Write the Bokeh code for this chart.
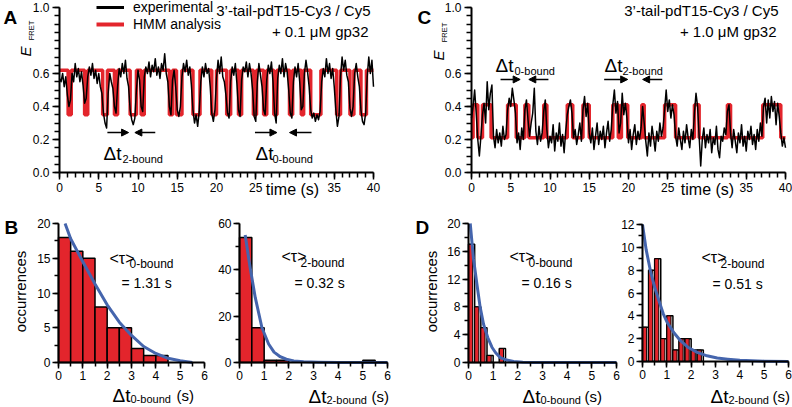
import math
from bokeh.plotting import figure
from bokeh.models import (Label, Legend, LegendItem, FixedTicker, PrintfTickFormatter,
                          Arrow, NormalHead, Range1d)
from bokeh.layouts import row, column
from bokeh.embed import file_html
from bokeh.resources import INLINE

FONT = "Liberation Sans"
RED = "#e3252c"
BLUE = "#4565ad"

# ---------------- data ----------------
frame_interval = 0.2
time_s = [round(frame_interval * i, 1) for i in range(201)]

trace_a = [0.57, 0.55, 0.60, 0.52, 0.58, 0.47, 0.40, 0.44, 0.60, 0.55,
           0.66, 0.58, 0.63, 0.55, 0.61, 0.53, 0.42, 0.45, 0.58, 0.64,
           0.59, 0.66, 0.57, 0.62, 0.54, 0.60, 0.52, 0.48, 0.36, 0.30,
           0.27, 0.48, 0.60, 0.55, 0.51, 0.40, 0.36, 0.52, 0.63, 0.58,
           0.66, 0.60, 0.68, 0.57, 0.52, 0.38, 0.32, 0.29, 0.33, 0.50,
           0.62, 0.56, 0.40, 0.37, 0.58, 0.64, 0.60, 0.67, 0.58, 0.65,
           0.61, 0.69, 0.59, 0.64, 0.57, 0.66, 0.62, 0.72, 0.60, 0.55,
           0.40, 0.35, 0.56, 0.62, 0.52, 0.38, 0.34, 0.40, 0.58, 0.66,
           0.61, 0.68, 0.59, 0.64, 0.53, 0.38, 0.30, 0.35, 0.28, 0.37,
           0.55, 0.64, 0.58, 0.66, 0.60, 0.63, 0.52, 0.36, 0.31, 0.38,
           0.57, 0.68, 0.60, 0.70, 0.58, 0.55, 0.47, 0.36, 0.33, 0.55,
           0.64, 0.59, 0.66, 0.54, 0.38, 0.34, 0.56, 0.64, 0.61, 0.67,
           0.58, 0.66, 0.60, 0.50, 0.34, 0.31, 0.55, 0.66, 0.59, 0.52,
           0.38, 0.35, 0.56, 0.65, 0.60, 0.67, 0.55, 0.36, 0.30, 0.57,
           0.65, 0.60, 0.69, 0.58, 0.66, 0.61, 0.50, 0.36, 0.33, 0.55,
           0.64, 0.58, 0.66, 0.55, 0.38, 0.40, 0.60, 0.68, 0.61, 0.52,
           0.38, 0.33, 0.36, 0.31, 0.35, 0.32, 0.37, 0.55, 0.63, 0.58,
           0.69, 0.60, 0.66, 0.57, 0.63, 0.52, 0.38, 0.28, 0.34, 0.58,
           0.70, 0.62, 0.68, 0.59, 0.55, 0.39, 0.34, 0.40, 0.60, 0.66,
           0.58, 0.52, 0.38, 0.31, 0.29, 0.36, 0.58, 0.70, 0.60, 0.68,
           0.52]

hmm_a_t = [0, 1.1, 1.5, 3.2, 3.6, 5.5, 6.1, 7.0, 7.4, 9.0, 9.8, 10.4, 10.8,
           14.0, 14.4, 14.9, 15.6, 17.0, 17.9, 19.4, 20.0, 21.3, 21.8, 22.8, 23.2,
           24.7, 25.1, 26.0, 26.4, 27.3, 27.7, 29.3, 29.7, 30.8, 31.1, 32.0, 33.3,
           35.3, 35.8, 37.0, 37.5, 38.4, 39.1, 40.0]
hmm_a_E = [0.62, 0.35, 0.62, 0.35, 0.62, 0.35, 0.62, 0.35, 0.62, 0.35, 0.62, 0.35, 0.62,
           0.35, 0.62, 0.35, 0.62, 0.35, 0.62, 0.35, 0.62, 0.35, 0.62, 0.35, 0.62,
           0.35, 0.62, 0.35, 0.62, 0.35, 0.62, 0.35, 0.62, 0.35, 0.62, 0.35, 0.62,
           0.35, 0.62, 0.35, 0.62, 0.35, 0.62, 0.62]

trace_c = [0.33, 0.40, 0.50, 0.36, 0.20, 0.10, 0.22, 0.35, 0.42, 0.30,
           0.55, 0.38, 0.48, 0.53, 0.22, 0.15, 0.26, 0.18, 0.24, 0.16,
           0.28, 0.20, 0.23, 0.38, 0.45, 0.40, 0.51, 0.44, 0.36, 0.18,
           0.24, 0.14, 0.27, 0.20, 0.38, 0.44, 0.32, 0.22, 0.30, 0.36,
           0.51, 0.25, 0.17, 0.28, 0.19, 0.24, 0.37, 0.44, 0.26, 0.15,
           0.22, 0.18, 0.29, 0.13, 0.24, 0.19, 0.30, 0.16, 0.23, 0.12,
           0.25, 0.35, 0.40, 0.44, 0.36, 0.21, 0.26, 0.17, 0.23, 0.30,
           0.19, 0.38, 0.46, 0.34, 0.42, 0.24, 0.18, 0.27, 0.14, 0.22,
           0.30, 0.17, 0.25, 0.20, 0.28, 0.15, 0.24, 0.31, 0.19, 0.26,
           0.41, 0.50, 0.36, 0.43, 0.24, 0.30, 0.48, 0.35, 0.42, 0.33,
           0.18, 0.26, 0.14, 0.23, 0.29, 0.17, 0.25, 0.20, 0.27, 0.40,
           0.30, 0.19, 0.10, 0.24, 0.16, 0.28, 0.21, 0.13, 0.25, 0.19,
           0.30, 0.22, 0.27, 0.38, 0.50, 0.37, 0.44, 0.33, 0.41, 0.35,
           0.22, 0.16, 0.27, 0.20, 0.14, 0.25, 0.18, 0.29, 0.21, 0.15,
           0.26, 0.20, 0.36, 0.48, 0.40, 0.22, 0.04, 0.20, 0.27, 0.15,
           0.23, 0.18, 0.26, 0.12, 0.21, 0.17, 0.28, 0.14, 0.09, 0.22,
           0.19, 0.27, 0.23, 0.37, 0.41, 0.24, 0.15, 0.26, 0.19, 0.12,
           0.24, 0.18, 0.29, 0.16, 0.22, 0.13, 0.25, 0.20, 0.28, 0.17,
           0.23, 0.14, 0.26, 0.19, 0.30, 0.22, 0.40, 0.45, 0.30, 0.44,
           0.33, 0.46, 0.37, 0.43, 0.29, 0.42, 0.34, 0.24, 0.16, 0.21,
           0.15]

hmm_c_t = [0, 0.2, 0.8, 1.4, 2.5, 4.6, 5.7, 6.8, 7.3, 9.2, 9.6, 12.2, 12.9,
           14.2, 15.0, 18.0, 18.7, 19.1, 19.9, 21.7, 22.0, 24.6, 26.0, 28.4, 29.0,
           32.6, 33.0, 37.1, 39.4, 40.0]
hmm_c_E = [0.21, 0.41, 0.21, 0.41, 0.21, 0.41, 0.21, 0.41, 0.21, 0.41, 0.21, 0.41, 0.21,
           0.41, 0.21, 0.41, 0.21, 0.41, 0.21, 0.41, 0.21, 0.41, 0.21, 0.41, 0.21,
           0.41, 0.21, 0.41, 0.21, 0.21]

# histograms (bin start, counts) and fitted curves
b1_bin_w = 0.5
b1_start = [0.0, 0.5, 1.0, 1.5, 2.0, 2.5, 3.0, 3.5, 4.0]
b1_count = [18, 16, 15, 8, 5, 5, 2, 1, 1]
b1_fit_x = [0.27, 0.5, 1.0, 1.5, 2.0, 2.5, 3.0, 3.5, 4.0, 4.5, 5.0, 5.5]
b1_fit_y = [20, 17.8, 14.5, 11.3, 8.3, 5.8, 3.9, 2.3, 1.3, 0.6, 0.25, 0.0]

b2_bin_w = 0.5
b2_start = [0.0, 0.5, 1.0, 1.5, 5.0]
b2_count = [54, 15, 1, 1, 1]
b2_fit_x = [0.23, 0.43, 0.64, 0.91, 1.18, 1.4, 1.65, 1.9, 2.2, 2.6, 3.2, 4.0, 5.0, 6.0]
b2_fit_y = [55, 41, 28, 15, 8, 4.5, 2.5, 1.4, 0.7, 0.3, 0.1, 0.0, 0.0, 0.0]

d1_bin_w = 0.25
d1_start = [0.0, 0.25, 0.5, 0.75, 1.25]
d1_count = [17, 8, 5, 1, 2]
d1_fit_x = [0.07, 0.2, 0.34, 0.47, 0.61, 0.78, 0.95, 1.1, 1.29, 1.55, 1.83, 2.2, 2.65, 4.0, 6.0]
d1_fit_y = [20, 15, 11.3, 8, 5.5, 3.6, 2.2, 1.4, 0.7, 0.35, 0.15, 0.05, 0.0, 0.0, 0.0]

d2_bin_w = 0.25
d2_start = [0.0, 0.25, 0.5, 0.75, 1.0, 1.25, 1.5, 1.75, 2.0, 2.25]
d2_count = [3, 8, 9, 2, 4, 1, 2, 2, 1, 1]
d2_fit_x = [0.0, 0.15, 0.34, 0.5, 0.68, 0.85, 1.02, 1.3, 1.57, 1.9, 2.25, 2.65, 3.07, 3.5, 4.0, 5.0, 6.0]
d2_fit_y = [12, 9.8, 7.8, 6.5, 5.3, 4.2, 3.4, 2.5, 1.8, 1.2, 0.8, 0.5, 0.3, 0.2, 0.1, 0.03, 0.0]


# ---------------- helpers ----------------
def make_fig(W, H, px0, px1, xv0, xv1, py0, py1, yv0, yv1, tick_out=7, standoff=3):
    """Frame covers whole canvas; px0/px1 = canvas x of data xv0/xv1,
    py0/py1 = canvas y (from top) of data yv0/yv1."""
    sx = (px1 - px0) / (xv1 - xv0)
    sy = (py0 - py1) / (yv1 - yv0)
    xr = Range1d(xv0 - px0 / sx, xv0 + (W - px0) / sx)
    yr = Range1d(yv0 - (H - py0) / sy, yv0 + py0 / sy)
    p = figure(width=W, height=H, x_range=xr, y_range=yr,
               output_backend="svg", toolbar_location=None,
               min_border_left=0, min_border_right=0,
               min_border_top=0, min_border_bottom=0)
    p.grid.visible = False
    p.outline_line_color = None
    p.xaxis.fixed_location = yv0
    p.yaxis.fixed_location = xv0
    p.xaxis.bounds = (xv0, xv1)
    p.yaxis.bounds = (yv0, yv1)
    for ax in (p.xaxis[0], p.yaxis[0]):
        ax.axis_line_width = 2
        ax.axis_line_color = "black"
        ax.major_tick_line_color = "black"
        ax.minor_tick_line_color = "black"
        ax.major_tick_line_width = 1.5
        ax.minor_tick_line_width = 1.5
        ax.major_tick_out = tick_out
        ax.major_tick_in = 0
        ax.minor_tick_out = tick_out - 2
        ax.minor_tick_in = 0
        ax.major_label_text_font = FONT
        ax.major_label_text_font_size = "12px"
        ax.major_label_text_color = "black"
        ax.major_label_standoff = standoff
    return p


def lab(p, text, px, py, size, align="left", base="middle", angle=0.0, style="normal"):
    p.add_layout(Label(x=px, y=p.height - py, x_units="screen", y_units="screen", text=text,
                       text_font=FONT, text_font_size=f"{size}px", text_align=align,
                       text_baseline=base, angle=angle, text_font_style=style,
                       text_color="black"))


def arrow(p, x0, x1, y):
    p.add_layout(Arrow(end=NormalHead(size=7, fill_color="black", line_color="black", line_width=1),
                       x_start=x0, y_start=y, x_end=x1, y_end=y,
                       line_color="black", line_width=1.5))


def trace_fig(W, px0, px1, tr, hmm_t, hmm_E):
    p = make_fig(W, 200, px0, px1, 0, 40, 172, 7, 0, 1)
    p.xaxis.ticker = FixedTicker(ticks=[0, 5, 10, 15, 20, 25, 35, 40],
                                 minor_ticks=[i for i in range(41)])
    p.yaxis.ticker = FixedTicker(ticks=[0.0, 0.2, 0.4, 0.6, 1.0],
                                 minor_ticks=[round(0.05 * i, 2) for i in range(21)])
    p.yaxis.formatter = PrintfTickFormatter(format="%.1f")
    h = p.step(hmm_t, hmm_E, mode="after", line_color=RED, line_width=3.5)
    t = p.line(time_s, tr, line_color="black", line_width=1.5, line_join="round")
    return p, t, h


def hist_fig(W, px0, px1, py0, py1, start, count, bw, fit_x, fit_y, ymax, yticks, yminor, split):
    p = make_fig(W, 207, px0, px1, 0, 6, py0, py1, 0, ymax, tick_out=6, standoff=2)
    p.xaxis.ticker = FixedTicker(ticks=[0, 1, 2, 3, 4, 5, 6],
                                 minor_ticks=[0.5 * i for i in range(13)])
    p.yaxis.ticker = FixedTicker(ticks=yticks, minor_ticks=yminor)
    right = [s + bw for s in start]
    zeros = [0] * len(start)
    if split:
        p.quad(left=start, right=right, top=count, bottom=zeros,
               fill_color="white", line_color="black", line_width=1.5)
        p.quad(left=start, right=[s + bw * 0.68 for s in start], top=count, bottom=zeros,
               fill_color=RED, line_color="black", line_width=1)
    else:
        p.quad(left=start, right=right, top=count, bottom=zeros,
               fill_color=RED, line_color="black", line_width=1.5)
    p.line(fit_x, fit_y, line_color=BLUE, line_width=3, line_join="round")
    return p


def xlabel(p, x, y, sub, xs, ys, xp):
    lab(p, "Δt", x, y, 19, base="alphabetic")
    lab(p, sub, xs, ys, 11, base="alphabetic")
    lab(p, "(s)", xp, y, 15, base="alphabetic")


def tau_text(p, x, y, sub, xs, ys, eq, xe, ye):
    lab(p, "<τ>", x, y, 16)
    lab(p, sub, xs, ys, 12)
    lab(p, eq, xe, ye, 14)


# ---------------- panel A (canvas x 0..415, y 0..200) ----------------
pA, trA, hmA = trace_fig(415, 59, 373, trace_a, hmm_a_t, hmm_a_E)
nan = float("nan")
dummy_k = pA.line([nan], [nan], line_color="black", line_width=3)
dummy_r = pA.line([nan], [nan], line_color=RED, line_width=4)
legA = Legend(items=[LegendItem(label="experimental", renderers=[dummy_k]),
                     LegendItem(label="HMM analysis", renderers=[dummy_r])],
              location=(96, 200 - 32), orientation="vertical", border_line_color=None,
              background_fill_alpha=0, padding=0, margin=0, spacing=1,
              glyph_width=28, glyph_height=14, label_height=14, label_standoff=9,
              label_text_font=FONT, label_text_font_size="14px", label_text_color="black")
pA.add_layout(legA)
lab(pA, "3’-tail-pdT15-Cy3 / Cy5", 370, 10, 15, align="right")
lab(pA, "+ 0.1 μM gp32", 368, 31, 15, align="right")
lab(pA, "A", 3, 17, 19, base="alphabetic", style="bold")
lab(pA, "E", 24.5, 51, 15, align="center", angle=math.pi / 2, style="italic")
lab(pA, "FRET", 30.5, 30, 7.5, align="center", angle=math.pi / 2)
lab(pA, "time (s)", 292, 189, 16, align="center")
arrow(pA, 6.1, 8.8, 0.242)
arrow(pA, 12.2, 9.6, 0.242)
arrow(pA, 24.9, 27.7, 0.242)
arrow(pA, 32.1, 29.3, 0.242)
lab(pA, "Δt", 103, 153, 19, base="alphabetic")
lab(pA, "2-bound", 122, 158, 11, base="alphabetic")
lab(pA, "Δt", 255, 153, 19, base="alphabetic")
lab(pA, "0-bound", 272, 158, 11, base="alphabetic")

# ---------------- panel C (canvas x 415..792) ----------------
pC, trC, hmC = trace_fig(377, 471 - 415, 785 - 415, trace_c, hmm_c_t, hmm_c_E)
lab(pC, "3’-tail-pdT15-Cy3 / Cy5", 778 - 415, 10, 15, align="right")
lab(pC, "+ 1.0 μM gp32", 776 - 415, 31, 15, align="right")
lab(pC, "C", 417 - 415, 17, 19, base="alphabetic", style="bold")
lab(pC, "E", 438 - 415, 55, 15, align="center", angle=math.pi / 2, style="italic")
lab(pC, "FRET", 444 - 415, 32, 7.5, align="center", angle=math.pi / 2)
lab(pC, "time (s)", 707 - 415, 189, 16, align="center")
arrow(pC, 3.7, 6.2, 0.564)
arrow(pC, 9.8, 7.3, 0.564)
arrow(pC, 16.9, 19.9, 0.564)
arrow(pC, 24.3, 21.8, 0.564)
lab(pC, "Δt", 495 - 415, 65, 19, base="alphabetic")
lab(pC, "0-bound", 514 - 415, 70, 11, base="alphabetic")
lab(pC, "Δt", 604 - 415, 65, 19, base="alphabetic")
lab(pC, "2-bound", 622 - 415, 70, 11, base="alphabetic")

# ---------------- panel B (canvas y 200..407) ----------------
pB1 = hist_fig(210, 58, 204, 162, 23, b1_start, b1_count, b1_bin_w, b1_fit_x, b1_fit_y, 20,
               [0, 5, 10, 15, 20], [2.5 * i for i in range(9)], False)
lab(pB1, "B", 4, 27, 19, base="alphabetic", style="bold")
lab(pB1, "occurrences", 20, 91, 15, align="center", angle=math.pi / 2)
tau_text(pB1, 109, 58, "0-bound", 129, 63, "= 1.31 s", 121, 82)
xlabel(pB1, 112, 195, "0-bound", 130, 198, 176)

pB2 = hist_fig(190, 239 - 210, 387 - 210, 162, 23, b2_start, b2_count, b2_bin_w,
               b2_fit_x, b2_fit_y, 60, [0, 20, 40, 60], [10 * i for i in range(7)], False)
tau_text(pB2, 281 - 210, 56, "2-bound", 300 - 210, 62, "= 0.32 s", 294 - 210, 82)
xlabel(pB2, 308 - 210, 196, "2-bound", 326 - 210, 199, 371 - 210)

# ---------------- panel D ----------------
pD1 = hist_fig(220, 468 - 400, 616 - 400, 162, 23, d1_start, d1_count, d1_bin_w,
               d1_fit_x, d1_fit_y, 20, [0, 4, 8, 12, 16, 20], [2 * i for i in range(11)], True)
lab(pD1, "D", 415 - 400, 27, 19, base="alphabetic", style="bold")
lab(pD1, "occurrences", 431 - 400, 91, 15, align="center", angle=math.pi / 2)
tau_text(pD1, 509 - 400, 56, "0-bound", 528 - 400, 62, "= 0.16 s", 521 - 400, 82)
xlabel(pD1, 522 - 400, 196, "0-bound", 540 - 400, 199, 584 - 400)

pD2 = hist_fig(172, 642 - 620, 788 - 620, 161, 24, d2_start, d2_count, d2_bin_w,
               d2_fit_x, d2_fit_y, 12, [0, 2, 4, 6, 8, 10, 12], [i for i in range(13)], True)
tau_text(pD2, 701 - 620, 57, "2-bound", 720 - 620, 63, "= 0.51 s", 712 - 620, 83)
xlabel(pD2, 710 - 620, 196, "2-bound", 728 - 620, 199, 772 - 620)

layout = column(row(pA, pC), row(pB1, pB2, pD1, pD2))
open("out.html", "w").write(file_html(layout, INLINE))
